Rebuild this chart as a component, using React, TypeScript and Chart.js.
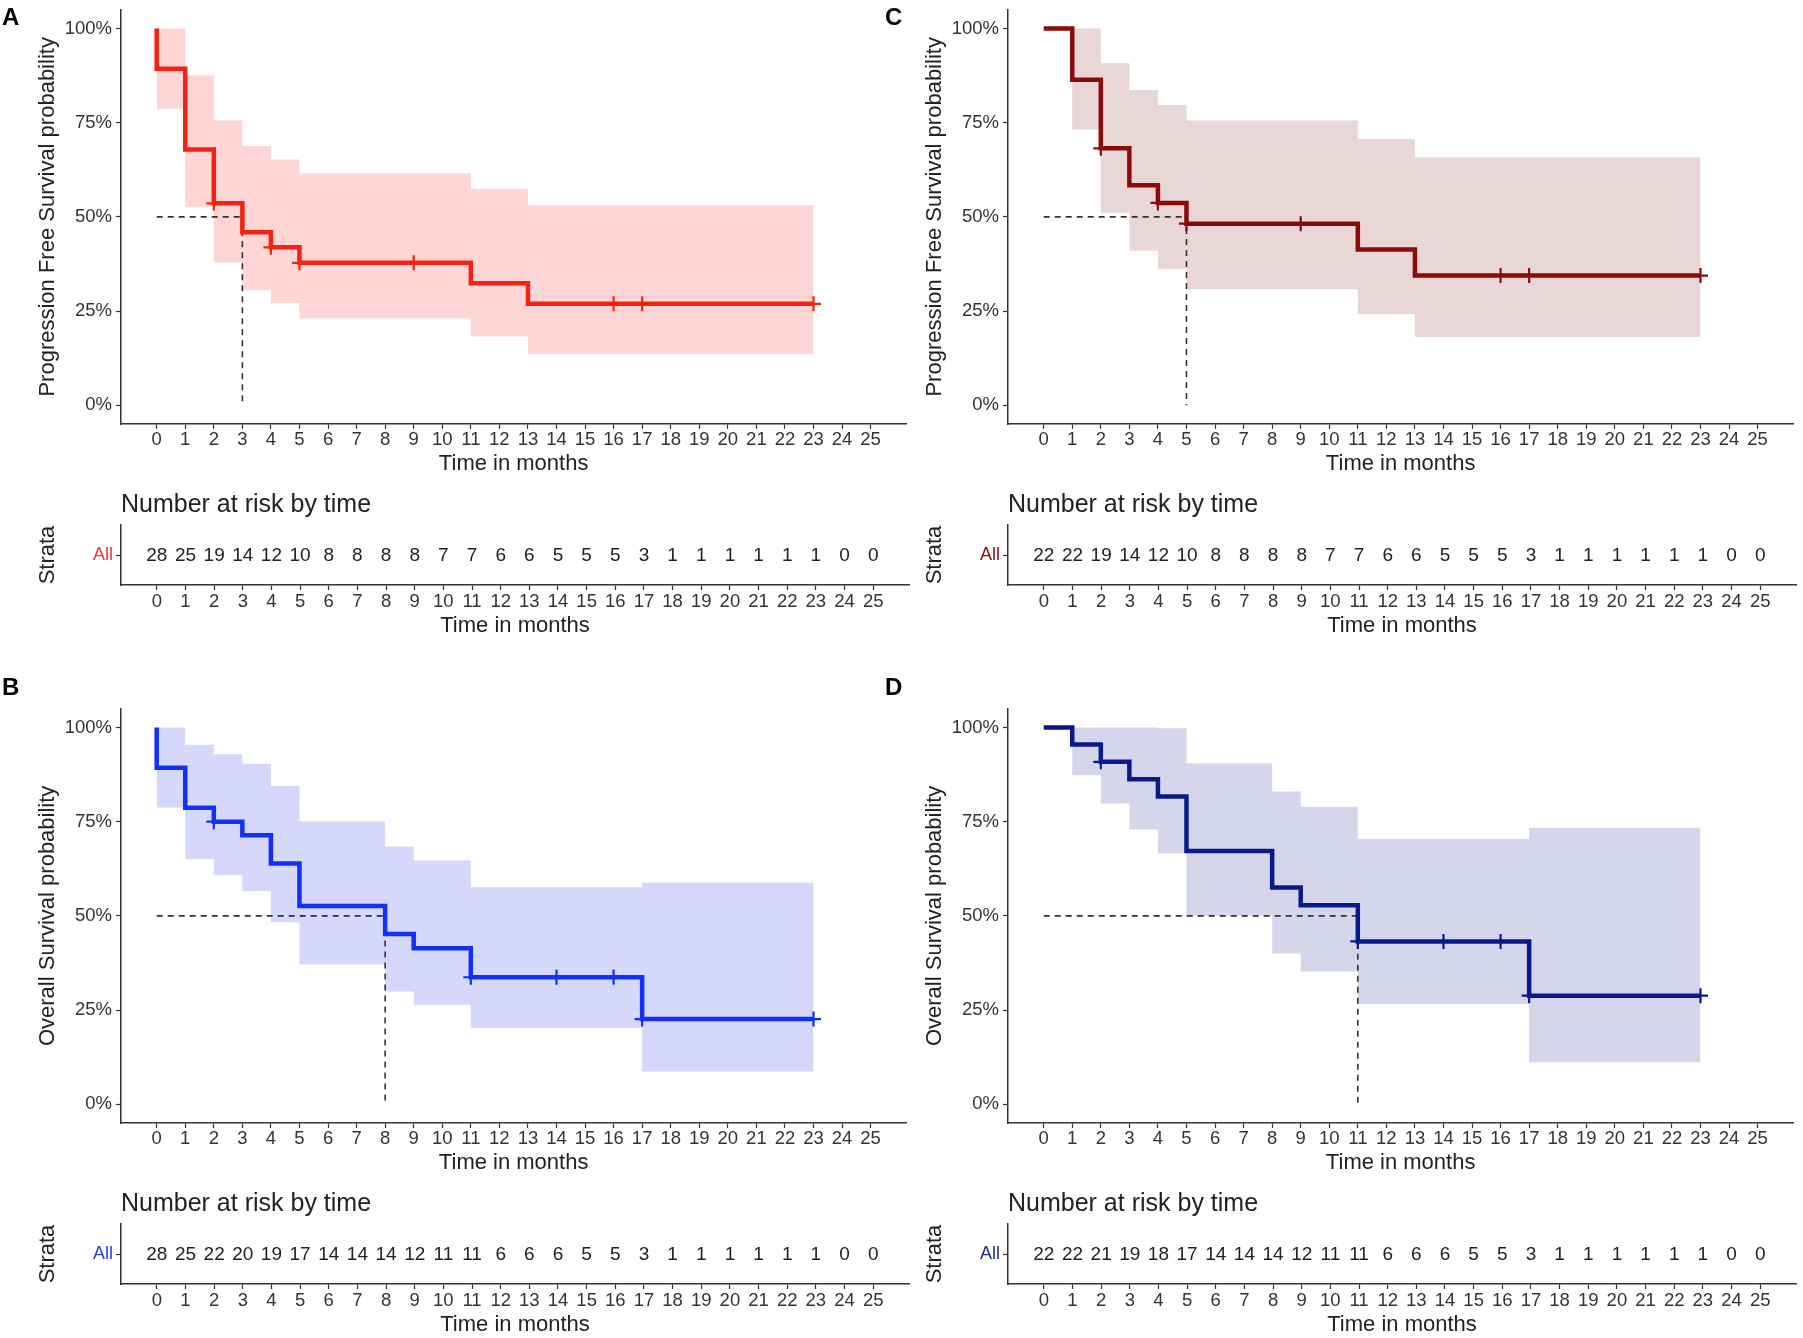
import React, { useEffect, useRef } from "react";
import { Chart, registerables } from "chart.js";

Chart.register(...registerables);

const FONT = "'Liberation Sans', Arial, Helvetica, sans-serif";

// shared ticks
const monthTicks = [0, 1, 2, 3, 4, 5, 6, 7, 8, 9, 10, 11, 12, 13, 14, 15, 16, 17, 18, 19, 20, 21, 22, 23, 24, 25];
const percentTicks = [0, 25, 50, 75, 100];

// ---------- Panel A: PFS (cohort 1) ----------
const timesA = [0, 0, 1, 2, 3, 4, 5, 11, 13, 23];
const survA = [100, 89.3, 67.9, 53.6, 45.9, 41.9, 37.8, 32.4, 26.9, 26.9];
const ciTimesA = [0, 1, 2, 3, 4, 5, 11, 13, 23];
const upperA = [100, 87.5, 75.6, 68.8, 65.2, 61.5, 57.4, 53.1, 53.1];
const lowerA = [78.7, 52.7, 37.9, 30.5, 27.1, 23.1, 18.2, 13.6, 13.6];
const censorA = [2, 4, 5, 9, 16, 17, 23];
const medianA = 3;
const riskA = [28, 25, 19, 14, 12, 10, 8, 8, 8, 8, 7, 7, 6, 6, 5, 5, 5, 3, 1, 1, 1, 1, 1, 1, 0, 0];

// ---------- Panel B: OS (cohort 1) ----------
const timesB = [0, 0, 1, 2, 3, 4, 5, 8, 9, 11, 17, 23];
const survB = [100, 89.3, 78.7, 75.0, 71.4, 63.9, 52.6, 45.2, 41.4, 33.7, 22.6, 22.6];
const ciTimesB = [0, 1, 2, 3, 4, 5, 8, 9, 11, 17, 23];
const upperB = [100, 95.4, 92.9, 90.4, 84.5, 75.1, 68.4, 64.7, 57.6, 58.8, 58.8];
const lowerB = [78.8, 65.0, 60.8, 56.6, 48.3, 37.1, 29.9, 26.4, 20.2, 8.7, 8.7];
const censorB = [2, 11, 14, 16, 17, 23];
const medianB = 8;
const riskB = [28, 25, 22, 20, 19, 17, 14, 14, 14, 12, 11, 11, 6, 6, 6, 5, 5, 3, 1, 1, 1, 1, 1, 1, 0, 0];

// ---------- Panel C: PFS (cohort 2) ----------
const timesC = [0, 1, 2, 3, 4, 5, 11, 13, 23];
const survC = [100, 86.4, 68.2, 58.4, 53.7, 48.2, 41.3, 34.4, 34.4];
const ciTimesC = [0, 1, 2, 3, 4, 5, 11, 13, 23];
const upperC = [100, 100, 90.8, 83.7, 79.7, 75.6, 70.7, 65.8, 65.8];
const lowerC = [100, 73.2, 51.1, 41.0, 36.2, 30.8, 24.2, 18.1, 18.1];
const censorC = [2, 4, 5, 9, 16, 17, 23];
const medianC = 5;
const riskC = [22, 22, 19, 14, 12, 10, 8, 8, 8, 8, 7, 7, 6, 6, 5, 5, 5, 3, 1, 1, 1, 1, 1, 1, 0, 0];

// ---------- Panel D: OS (cohort 2) ----------
const timesD = [0, 1, 2, 3, 4, 5, 8, 9, 11, 17, 23];
const survD = [100, 95.5, 90.9, 86.3, 81.7, 67.2, 57.5, 52.8, 43.2, 28.8, 28.8];
const ciTimesD = [0, 1, 2, 3, 4, 5, 8, 9, 11, 17, 23];
const upperD = [100, 100, 100, 100, 99.8, 90.5, 83.0, 79.0, 70.5, 73.4, 73.4];
const lowerD = [100, 87.3, 79.8, 72.9, 66.6, 50.1, 40.0, 35.2, 26.6, 11.1, 11.1];
const censorD = [2, 11, 14, 16, 17, 23];
const medianD = 11;
const riskD = [22, 22, 21, 19, 18, 17, 14, 14, 14, 12, 11, 11, 6, 6, 6, 5, 5, 3, 1, 1, 1, 1, 1, 1, 0, 0];

// step-function lookup: value of the curve at time t
function stepValue(times: number[], values: number[], t: number): number {
  let v = values[0];
  for (let i = 0; i < times.length; i++) {
    if (times[i] <= t) v = values[i];
  }
  return v;
}

const pts = (xs: number[], ys: number[]) => xs.map((x, i) => ({ x, y: ys[i] }));

const CANVAS_W = 916;
const KM_H = 480;
const TABLE_H = 158;
const TICK_FONT = 18.5;
const TITLE_FONT = 22;

function xScale(height: number, tickPad: number, titleBottom: number, titleLH: number) {
  return {
    type: "linear" as const,
    min: -1.25,
    max: 26.25,
    afterBuildTicks: (s: any) => {
      s.ticks = monthTicks.map((v) => ({ value: v }));
    },
    afterFit: (s: any) => {
      s.height = height;
      s.paddingLeft = 0;
      s.paddingRight = 0;
      s.paddingTop = 0;
      s.paddingBottom = 0;
    },
    grid: {
      display: true,
      drawOnChartArea: false,
      drawTicks: true,
      tickLength: 5,
      tickColor: "#333",
      tickWidth: 1.2,
    },
    border: { display: true, color: "#333", width: 1.5 },
    ticks: {
      autoSkip: false,
      maxRotation: 0,
      padding: tickPad,
      color: "#333",
      font: { family: FONT, size: TICK_FONT, lineHeight: 1.15 },
    },
    title: {
      display: true,
      text: "Time in months",
      color: "#222",
      font: { family: FONT, size: TITLE_FONT, lineHeight: titleLH },
      padding: { top: 0, bottom: titleBottom },
    },
  };
}

function yScaleBase(width: number) {
  return {
    afterFit: (s: any) => {
      s.width = width;
      s.paddingTop = 0;
      s.paddingBottom = 0;
      s.paddingLeft = 0;
      s.paddingRight = 0;
    },
    grid: {
      display: true,
      drawOnChartArea: false,
      drawTicks: true,
      tickLength: 5,
      tickColor: "#333",
      tickWidth: 1.2,
    },
    border: { display: true, color: "#333", width: 1.5 },
  };
}

type KMProps = {
  left: number;
  top: number;
  times: number[];
  surv: number[];
  ciTimes: number[];
  upper: number[];
  lower: number[];
  censor: number[];
  median: number;
  color: string;
  fill: string;
  ytitle: string;
};

function KMPlot(p: KMProps) {
  const ref = useRef<HTMLCanvasElement>(null);
  useEffect(() => {
    const chart = new Chart(ref.current as HTMLCanvasElement, {
      type: "line",
      data: {
        datasets: [
          {
            label: "censor",
            data: p.censor.map((t) => ({ x: t, y: stepValue(p.times, p.surv, t) })),
            showLine: false,
            pointStyle: "cross",
            pointRadius: 7.5,
            pointBorderWidth: 2.2,
            borderColor: p.color,
            backgroundColor: p.color,
            fill: false,
          },
          {
            label: "survival",
            data: pts(p.times, p.surv),
            stepped: "before",
            borderColor: p.color,
            borderWidth: 4.5,
            borderJoinStyle: "miter",
            pointRadius: 0,
            fill: false,
          },
          {
            label: "median",
            data: [
              { x: 0, y: 50 },
              { x: p.median, y: 50 },
              { x: p.median, y: 0 },
            ],
            borderColor: "#333",
            borderWidth: 1.6,
            borderDash: [6, 5],
            pointRadius: 0,
            fill: false,
          },
          {
            label: "upper",
            data: pts(p.ciTimes, p.upper),
            stepped: "before",
            borderWidth: 0,
            borderColor: "rgba(0,0,0,0)",
            backgroundColor: p.fill,
            pointRadius: 0,
            fill: "+1",
          },
          {
            label: "lower",
            data: pts(p.ciTimes, p.lower),
            stepped: "before",
            borderWidth: 0,
            borderColor: "rgba(0,0,0,0)",
            pointRadius: 0,
            fill: false,
          },
        ],
      } as any,
      options: {
        animation: false,
        responsive: false,
        events: [],
        layout: { padding: { top: 4, right: 7, left: 0, bottom: 0 } },
        plugins: {
          legend: { display: false },
          tooltip: { enabled: false },
          filler: { drawTime: "beforeDatasetsDraw" },
        } as any,
        scales: {
          x: xScale(56, 0, 3, 1.2),
          y: {
            type: "linear",
            min: -5,
            max: 105,
            afterBuildTicks: (s: any) => {
              s.ticks = percentTicks.map((v) => ({ value: v }));
            },
            ...yScaleBase(121),
            ticks: {
              padding: 4,
              color: "#333",
              font: { family: FONT, size: TICK_FONT },
              callback: (v: any) => v + "%",
            },
            title: {
              display: true,
              text: p.ytitle,
              color: "#222",
              font: { family: FONT, size: TITLE_FONT },
              padding: { top: 35, bottom: 0 },
            },
          },
        } as any,
      },
    });
    return () => chart.destroy();
  }, []);
  return (
    <canvas
      ref={ref}
      width={CANVAS_W}
      height={KM_H}
      style={{ position: "absolute", left: p.left, top: p.top, width: CANVAS_W, height: KM_H }}
    />
  );
}

type RiskProps = {
  left: number;
  top: number;
  counts: number[];
  color: string;
};

function RiskTable(p: RiskProps) {
  const ref = useRef<HTMLCanvasElement>(null);
  useEffect(() => {
    const textPlugin = {
      id: "riskText",
      afterDatasetsDraw(chart: any) {
        const ctx = chart.ctx;
        const meta = chart.getDatasetMeta(0);
        ctx.save();
        ctx.fillStyle = "#222";
        ctx.font = `19px ${FONT}`;
        ctx.textAlign = "center";
        ctx.textBaseline = "middle";
        meta.data.forEach((el: any, i: number) => {
          ctx.fillText(String(chart.data.datasets[0].data[i].n), el.x, el.y + 1);
        });
        ctx.font = `25px ${FONT}`;
        ctx.textAlign = "left";
        ctx.textBaseline = "alphabetic";
        ctx.fillText("Number at risk by time", chart.chartArea.left, chart.chartArea.top - 13);
        ctx.restore();
      },
    };
    const chart = new Chart(ref.current as HTMLCanvasElement, {
      type: "line",
      data: {
        datasets: [
          {
            label: "risk",
            data: monthTicks.map((t, i) => ({ x: t, y: 0.5, n: p.counts[i] })),
            showLine: false,
            pointRadius: 0,
          },
        ],
      } as any,
      options: {
        animation: false,
        responsive: false,
        events: [],
        layout: { padding: { top: 45, right: 7, left: 0, bottom: 0 } },
        plugins: {
          legend: { display: false },
          tooltip: { enabled: false },
        },
        scales: {
          x: xScale(53, 1.5, 1, 1),
          y: {
            type: "linear",
            min: 0,
            max: 1,
            afterBuildTicks: (s: any) => {
              s.ticks = [{ value: 0.5 }];
            },
            ...yScaleBase(121),
            ticks: {
              padding: 3,
              color: p.color,
              font: { family: FONT, size: 18 },
              callback: () => "All",
            },
            title: {
              display: true,
              text: "Strata",
              color: "#222",
              font: { family: FONT, size: TITLE_FONT },
              padding: { top: 35, bottom: 0 },
            },
          },
        } as any,
      },
      plugins: [textPlugin],
    });
    return () => chart.destroy();
  }, []);
  return (
    <canvas
      ref={ref}
      width={CANVAS_W}
      height={TABLE_H}
      style={{ position: "absolute", left: p.left, top: p.top, width: CANVAS_W, height: TABLE_H }}
    />
  );
}

function Letter({ text, left, top }: { text: string; left: number; top: number }) {
  return (
    <div
      style={{
        position: "absolute",
        left,
        top,
        fontFamily: FONT,
        fontWeight: "bold",
        fontSize: 24,
        lineHeight: "24px",
        color: "#000",
      }}
    >
      {text}
    </div>
  );
}

export default function App() {
  const dx = 887;
  const dy = 699;
  return (
    <div
      style={{
        position: "absolute",
        left: 0,
        top: 0,
        width: 1803,
        height: 1338,
        overflow: "hidden",
        background: "#fff",
      }}
    >
      <KMPlot
        left={0}
        top={0}
        times={timesA}
        surv={survA}
        ciTimes={ciTimesA}
        upper={upperA}
        lower={lowerA}
        censor={censorA}
        median={medianA}
        color="#F6220F"
        fill="#FFD6D6"
        ytitle="Progression Free Survival probability"
      />
      <RiskTable left={0} top={KM_H} counts={riskA} color="#E8383A" />

      <KMPlot
        left={dx}
        top={0}
        times={timesC}
        surv={survC}
        ciTimes={ciTimesC}
        upper={upperC}
        lower={lowerC}
        censor={censorC}
        median={medianC}
        color="#8B0A0A"
        fill="#E9D6D7"
        ytitle="Progression Free Survival probability"
      />
      <RiskTable left={dx} top={KM_H} counts={riskC} color="#8B0A0A" />

      <KMPlot
        left={0}
        top={dy}
        times={timesB}
        surv={survB}
        ciTimes={ciTimesB}
        upper={upperB}
        lower={lowerB}
        censor={censorB}
        median={medianB}
        color="#1230F8"
        fill="#D5D7FB"
        ytitle="Overall Survival probability"
      />
      <RiskTable left={0} top={dy + KM_H} counts={riskB} color="#2440E8" />

      <KMPlot
        left={dx}
        top={dy}
        times={timesD}
        surv={survD}
        ciTimes={ciTimesD}
        upper={upperD}
        lower={lowerD}
        censor={censorD}
        median={medianD}
        color="#0A1A8E"
        fill="#D5D6EA"
        ytitle="Overall Survival probability"
      />
      <RiskTable left={dx} top={dy + KM_H} counts={riskD} color="#1A2A96" />

      <Letter text="A" left={2} top={5} />
      <Letter text="C" left={885} top={5} />
      <Letter text="B" left={2} top={675} />
      <Letter text="D" left={885} top={675} />
    </div>
  );
}
